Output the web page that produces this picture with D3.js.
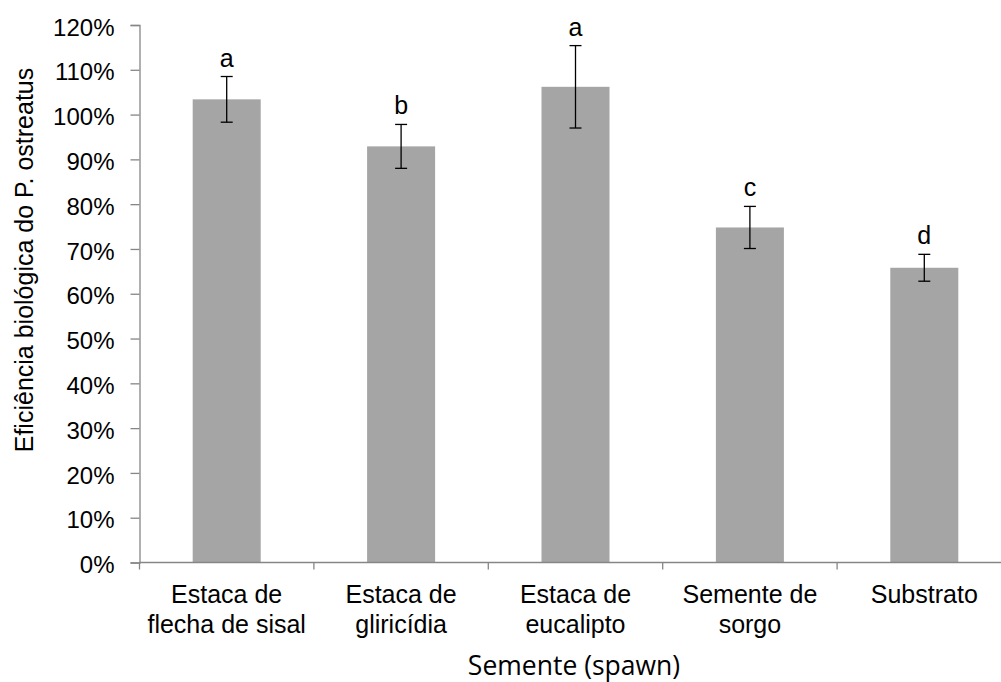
<!DOCTYPE html>
<html>
<head>
<meta charset="utf-8">
<script src="https://cdn.jsdelivr.net/npm/d3@7"></script>
<style>
  html, body { margin: 0; padding: 0; background: #fff; }
  svg { display: block; }
</style>
</head>
<body>
<script>
// Biological efficiency of P. ostreatus by spawn type (mean ± error, letters = groups)
const categories = [
  ["Estaca de", "flecha de sisal"],
  ["Estaca de", "gliricídia"],
  ["Estaca de", "eucalipto"],
  ["Semente de", "sorgo"],
  ["Substrato"]
];
const means  = [103.4, 92.9, 106.2, 74.8, 65.8];
const errors = [5.1, 4.9, 9.2, 4.7, 3.0];
const groups = ["a", "b", "a", "c", "d"];
const yTicks = [0, 10, 20, 30, 40, 50, 60, 70, 80, 90, 100, 110, 120];

const W = 1001, H = 682;
const plotLeft = 139.5, plotTop = 25, plotBottom = 562.5, plotRight = 1011.5;

const svg = d3.select("body").append("svg")
  .attr("width", W).attr("height", H);

const x = d3.scaleBand()
  .domain(d3.range(categories.length))
  .range([plotLeft, plotRight])
  .padding(0);

const y = d3.scaleLinear().domain([0, 120]).range([plotBottom, plotTop]);

const barW = x.bandwidth() * 0.39;
const axisColor = "#868686";
const font = "Arial, 'Liberation Sans', sans-serif";

// Y axis
const yAxis = svg.append("g")
  .attr("transform", `translate(${plotLeft},0)`)
  .call(d3.axisLeft(y).tickValues(yTicks).tickSize(9).tickPadding(16)
    .tickFormat(d => d + "%"));
yAxis.select(".domain").attr("stroke", axisColor).attr("stroke-width", 1.3);
yAxis.selectAll(".tick line").attr("stroke", axisColor).attr("stroke-width", 1.3);
yAxis.selectAll(".tick text")
  .attr("font-family", font).attr("font-size", 24).attr("fill", "#000")
  .attr("dy", "0.42em");

// Bars
svg.append("g").selectAll("rect")
  .data(means)
  .join("rect")
  .attr("x", (d, i) => x(i) + x.bandwidth() / 2 - barW / 2)
  .attr("width", barW)
  .attr("y", d => y(d))
  .attr("height", d => y(0) - y(d))
  .attr("fill", "#a5a5a5");

// X axis
const xAxis = svg.append("g")
  .attr("transform", `translate(0,${plotBottom})`);
xAxis.append("line")
  .attr("x1", plotLeft).attr("x2", plotRight)
  .attr("stroke", axisColor).attr("stroke-width", 1.3);
xAxis.selectAll("line.tk")
  .data(d3.range(categories.length + 1))
  .join("line")
  .attr("class", "tk")
  .attr("x1", i => plotLeft + i * x.step()).attr("x2", i => plotLeft + i * x.step())
  .attr("y1", 0).attr("y2", 7)
  .attr("stroke", axisColor).attr("stroke-width", 1.3);

// Category labels
const catText = svg.append("g").selectAll("text")
  .data(categories)
  .join("text")
  .attr("text-anchor", "middle")
  .attr("font-family", font)
  .attr("font-size", 25)
  .attr("fill", "#000");
catText.selectAll("tspan")
  .data((d, i) => d.map(t => ({ t, i })))
  .join("tspan")
  .attr("x", d => x(d.i) + x.bandwidth() / 2)
  .attr("y", (d, j) => 603 + j * 30)
  .text(d => d.t);

// Error bars
const eb = svg.append("g").attr("stroke", "#000").attr("stroke-width", 1.3);
means.forEach((m, i) => {
  const cx = x(i) + x.bandwidth() / 2;
  const y1 = y(m + errors[i]), y2 = y(m - errors[i]);
  eb.append("line").attr("x1", cx).attr("x2", cx).attr("y1", y1).attr("y2", y2);
  eb.append("line").attr("x1", cx - 6).attr("x2", cx + 6).attr("y1", y1).attr("y2", y1);
  eb.append("line").attr("x1", cx - 6).attr("x2", cx + 6).attr("y1", y2).attr("y2", y2);
});

// Group letters
svg.append("g").selectAll("text")
  .data(groups)
  .join("text")
  .attr("x", (d, i) => x(i) + x.bandwidth() / 2)
  .attr("y", (d, i) => y(means[i] + errors[i]) - 10)
  .attr("text-anchor", "middle")
  .attr("font-family", font)
  .attr("font-size", 25)
  .attr("fill", "#000")
  .text(d => d);

// Axis titles
svg.append("text")
  .attr("transform", `translate(33,260) rotate(-90)`)
  .attr("text-anchor", "middle")
  .attr("font-family", font)
  .attr("font-size", 25)
  .attr("fill", "#000")
  .text("Eficiência biológica do P. ostreatus");

svg.append("text")
  .attr("x", 574).attr("y", 675)
  .attr("text-anchor", "middle")
  .attr("font-family", "'Open Sans', 'Noto Sans', sans-serif")
  .attr("font-size", 26.5)
  .attr("fill", "#000")
  .text("Semente (spawn)");
</script>
</body>
</html>
